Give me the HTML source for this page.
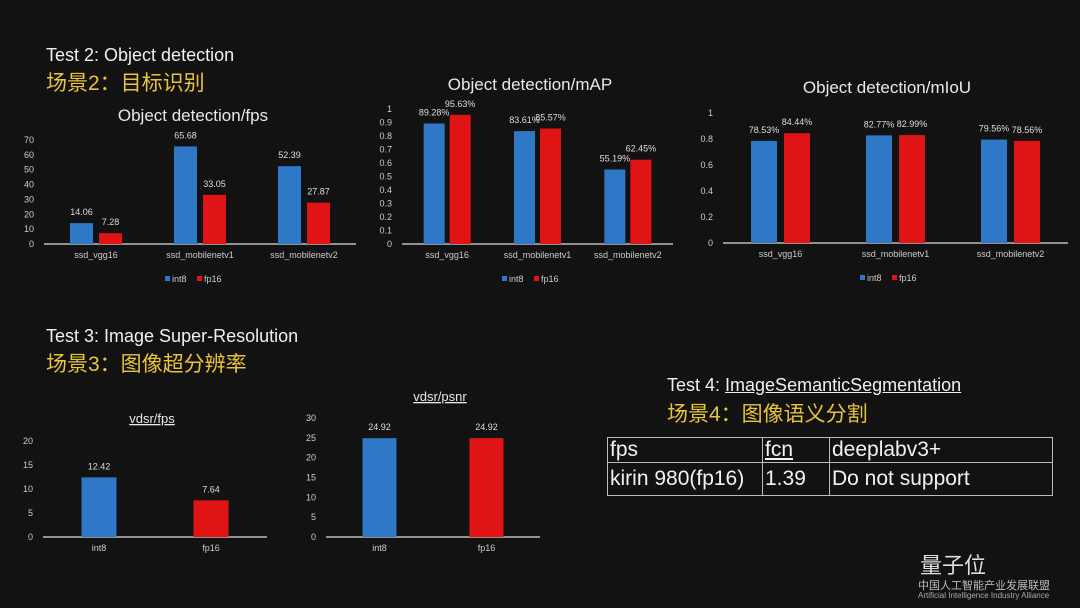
<!DOCTYPE html>
<html><head><meta charset="utf-8">
<style>
body{margin:0;background:#121111;}
#slide{position:relative;width:1080px;height:608px;background:#131212;overflow:hidden;font-family:"Liberation Sans","Noto Sans CJK SC",sans-serif;color:#eee;}
.h{position:absolute;color:#f0f0f0;font-size:18px;white-space:nowrap;}
.cn{position:absolute;color:#e8c43a;font-size:21px;white-space:nowrap;font-family:"Liberation Sans","Noto Sans CJK SC",sans-serif;}
svg{position:absolute;left:0;top:0;}
table{position:absolute;left:607px;top:437px;border-collapse:collapse;font-size:21px;color:#f2f2f2;}
td{border:1.5px solid #bbb;padding:0 2px;}
tr.r1 td{height:24px;line-height:24px;}
tr.r2 td{height:32px;line-height:32px;}
</style></head><body>
<div id="slide">
<div class="h" style="left:46px;top:45px">Test 2: Object detection</div>
<div class="cn" style="left:46px;top:67px">场景2：目标识别</div>
<div class="h" style="left:46px;top:326px">Test 3: Image Super-Resolution</div>
<div class="cn" style="left:46px;top:348px">场景3：图像超分辨率</div>
<div class="h" style="left:667px;top:375px">Test 4: <u>ImageSemanticSegmentation</u></div>
<div class="cn" style="left:667px;top:398px">场景4：图像语义分割</div>
<table>
<tr class="r1"><td style="width:150px">fps</td><td style="width:62px"><u>fcn</u></td><td style="width:218px">deeplabv3+</td></tr>
<tr class="r2"><td>kirin 980(fp16)</td><td>1.39</td><td>Do not support</td></tr>
</table>
<div style="position:absolute;left:920px;top:548px;font-size:22px;color:#ddd;">量子位</div>
<div style="position:absolute;left:918px;top:577px;font-size:11px;color:#bbb;">中国人工智能产业发展联盟</div>
<div style="position:absolute;left:918px;top:591px;font-size:8px;color:#aaa;">Artificial Intelligence Industry Alliance</div>
<svg id="svg" width="1080" height="608"></svg>
</div>
<script>
const odCategories=["ssd_vgg16","ssd_mobilenetv1","ssd_mobilenetv2"];
const fpsInt8=[14.06,65.68,52.39];
const fpsFp16=[7.28,33.05,27.87];
const mapInt8=[0.8928,0.8361,0.5519];
const mapFp16=[0.9563,0.8557,0.6245];
const miouInt8=[0.7853,0.8277,0.7956];
const miouFp16=[0.8444,0.8299,0.7856];
const vdsrCategories=["int8","fp16"];
const vdsrFps=[12.42,7.64];
const vdsrPsnr=[24.92,24.92];
const fpsTicks=[0,10,20,30,40,50,60,70];
const mapTicks=[0,0.1,0.2,0.3,0.4,0.5,0.6,0.7,0.8,0.9,1];
const miouTicks=[0,0.2,0.4,0.6,0.8,1];
const vfTicks=[0,5,10,15,20];
const vpTicks=[0,5,10,15,20,25,30];

const NS="http://www.w3.org/2000/svg";
const svg=document.getElementById('svg');
const BLUE="#2f78c8",RED="#e01414";
function mk(t,a,txt){const e=document.createElementNS(NS,t);for(const k in a)e.setAttribute(k,a[k]);if(txt!==undefined)e.textContent=txt;svg.appendChild(e);return e;}
function chart(o){
  const y=v=>o.y0-(v-o.ticks[0])/(o.ticks[o.ticks.length-1]-o.ticks[0])*(o.y0-o.yTop);
  let t=mk('text',{x:o.tx,y:o.ty,'text-anchor':'middle',fill:'#e8e8e8','font-size':o.tfs,'text-decoration':o.u?'underline':'none'},o.title);
  
  
  o.ticks.forEach(v=>{const l=mk('text',{x:o.x0-10,y:y(v)+3,'text-anchor':'end',fill:'#ccc','font-size':9},o.fmt?o.fmt(v):v);
    
    });
  const ax=mk('line',{x1:o.x0,x2:o.x1,y1:o.y0,y2:o.y0,stroke:'#ddd','stroke-width':1.2});
  
  
  const n=o.cats.length,cw=(o.x1-o.x0)/n;
  o.cats.forEach((c,i)=>{
    const cx=o.x0+cw*(i+0.5);
    const lb=mk('text',{x:cx,y:o.y0+14,'text-anchor':'middle',fill:'#ccc','font-size':9},c);
    
    
    o.series.forEach((s,j)=>{
      const ns=o.series.length;
      const bx=ns===1?cx-o.bw/2:(j===0?cx-o.gap/2-o.bw:cx+o.gap/2);
      const col=o.colors?o.colors[i]:(j===0?BLUE:RED);
      const v=s[i];
      const r=mk('rect',{x:bx,y:y(v),width:o.bw,height:o.y0-y(v),fill:col});
      
      
      const vl=mk('text',{x:bx+o.bw/2,y:y(v)-8,'text-anchor':'middle',fill:'#ddd','font-size':9},o.pct?(v*100).toFixed(2)+'%':v.toFixed(2));
      
      
    });
  });
  if(o.legend){
    const lx=o.legend,ly=o.y0+38;
    const a=mk('rect',{x:lx-30,y:ly-6,width:5,height:5,fill:BLUE});
    
    const b=mk('text',{x:lx-23,y:ly,fill:'#ccc','font-size':9},'int8');
    
    const c=mk('rect',{x:lx+2,y:ly-6,width:5,height:5,fill:RED});
    
    const d=mk('text',{x:lx+9,y:ly,fill:'#ccc','font-size':9},'fp16');
    
  }
}
chart({id:'od-fps',title:'Object detection/fps',tx:193,ty:121,tfs:17,x0:44,x1:356,y0:244,yTop:140,ticks:fpsTicks,cats:odCategories,series:[fpsInt8,fpsFp16],bw:23,gap:6,legend:195});
chart({id:'od-map',title:'Object detection/mAP',tx:530,ty:90,tfs:17,x0:402,x1:673,y0:244,yTop:109,ticks:mapTicks,cats:odCategories,series:[mapInt8,mapFp16],bw:21,gap:5,pct:true,legend:532});
chart({id:'od-miou',title:'Object detection/mIoU',tx:887,ty:93,tfs:17,x0:723,x1:1068,y0:243,yTop:113,ticks:miouTicks,cats:odCategories,series:[miouInt8,miouFp16],bw:26,gap:7,pct:true,legend:890,fmt:v=>v});
chart({id:'vdsr-fps',title:'vdsr/fps',tx:152,ty:423,tfs:13,u:true,x0:43,x1:267,y0:537,yTop:441,ticks:vfTicks,cats:vdsrCategories,series:[vdsrFps],colors:[BLUE,RED],bw:35});
chart({id:'vdsr-psnr',title:'vdsr/psnr',tx:440,ty:401,tfs:13,u:true,x0:326,x1:540,y0:537,yTop:418,ticks:vpTicks,cats:vdsrCategories,series:[vdsrPsnr],colors:[BLUE,RED],bw:34});
</script>
</body></html>
